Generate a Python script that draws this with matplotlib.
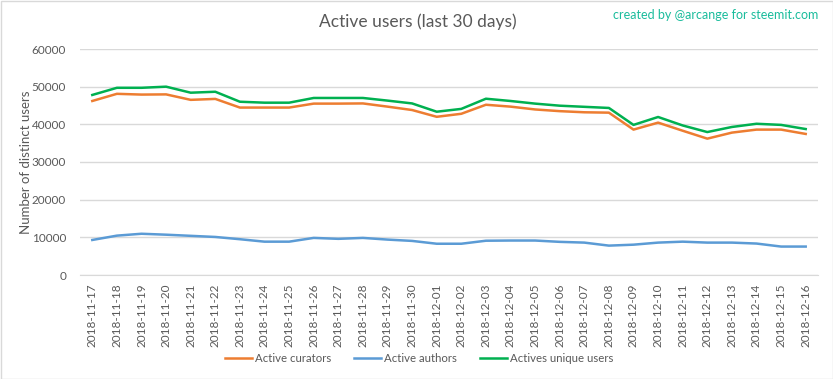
import matplotlib
matplotlib.use("Agg")
import matplotlib.pyplot as plt
from matplotlib.patches import Rectangle

dates = ["2018-11-17", "2018-11-18", "2018-11-19", "2018-11-20", "2018-11-21", "2018-11-22",
         "2018-11-23", "2018-11-24", "2018-11-25", "2018-11-26", "2018-11-27", "2018-11-28",
         "2018-11-29", "2018-11-30", "2018-12-01", "2018-12-02", "2018-12-03", "2018-12-04",
         "2018-12-05", "2018-12-06", "2018-12-07", "2018-12-08", "2018-12-09", "2018-12-10",
         "2018-12-11", "2018-12-12", "2018-12-13", "2018-12-14", "2018-12-15", "2018-12-16"]

curators = [46200, 48100, 47900, 47950, 46500, 46750, 44450, 44450, 44450, 45500, 45500, 45550,
            44700, 43800, 42000, 42800, 45200, 44700, 43950, 43500, 43200, 43100, 38600, 40450,
            38300, 36200, 37800, 38600, 38600, 37450]
authors = [9300, 10450, 10950, 10700, 10400, 10100, 9500, 8850, 8850, 9850, 9600, 9850,
           9400, 9050, 8300, 8300, 9100, 9150, 9150, 8800, 8600, 7800, 8050, 8600,
           8850, 8600, 8600, 8350, 7550, 7550]
unique = [47800, 49700, 49700, 50000, 48400, 48650, 46000, 45750, 45750, 47000, 47000, 47000,
          46300, 45550, 43350, 44100, 46800, 46200, 45500, 44950, 44650, 44350, 39850, 41950,
          39700, 37950, 39300, 40150, 39850, 38750]

series_names = ["Active curators", "Active authors", "Actives unique users"]
colors = ["#ED7D31", "#5B9BD5", "#00B050"]

FONT = ["Lato", "DejaVu Sans"]
plt.rcParams['font.family'] = FONT

fig = plt.figure(figsize=(8.33, 3.79), dpi=100)
fig.patches.append(Rectangle((0.5 / 833, 0.5 / 379), 1 - 1 / 833, 1 - 1 / 379,
                             transform=fig.transFigure, fill=False,
                             edgecolor="#D9D9D9", linewidth=1))
ax = fig.add_axes([80 / 833, 1 - 275 / 379, 738 / 833, 226 / 379])

x = list(range(len(dates)))
for vals, name, c in zip([curators, authors, unique], series_names, colors):
    ax.plot(x, vals, color=c, linewidth=1.8, label=name, solid_joinstyle="round")

ax.set_xlim(-0.5, len(dates) - 0.5)
ax.set_ylim(0, 60000)
ax.set_yticks(range(0, 60001, 10000))
ax.set_xticks(x)
ax.set_xticklabels(dates, rotation=90)
ax.tick_params(axis="both", length=0, labelsize=8.5, colors="#595959")
ax.tick_params(axis="y", pad=10)
ax.tick_params(axis="x", pad=6)
ax.grid(axis="y", color="#D9D9D9", linewidth=1)
ax.set_axisbelow(True)
for s in ["top", "right", "left"]:
    ax.spines[s].set_visible(False)
ax.spines["bottom"].set_color("#D9D9D9")

ylab = ax.set_ylabel("Number of distinct users", fontsize=9.5, color="#595959")
ylab.set_rotation_mode("anchor")
ylab.set_verticalalignment("center")
ax.yaxis.set_label_coords(-(80 - 26) / 738, 0.5)

fig.text(418 / 833, 1 - 22 / 379, "Active users (last 30 days)", ha="center", va="center",
         fontsize=12.5, color="#595959")
fig.text(818 / 833, 1 - 15 / 379, "created by @arcange for steemit.com", ha="right",
         va="center", fontsize=9, color="#1ABC9C")

fig.legend(loc="center", bbox_to_anchor=(419 / 833, 1 - 358 / 379), ncol=3, frameon=False,
           fontsize=8.2, handlelength=2.4, handletextpad=0.25, columnspacing=2.0,
           labelcolor="#595959")

fig.savefig("out.png", dpi=100)
